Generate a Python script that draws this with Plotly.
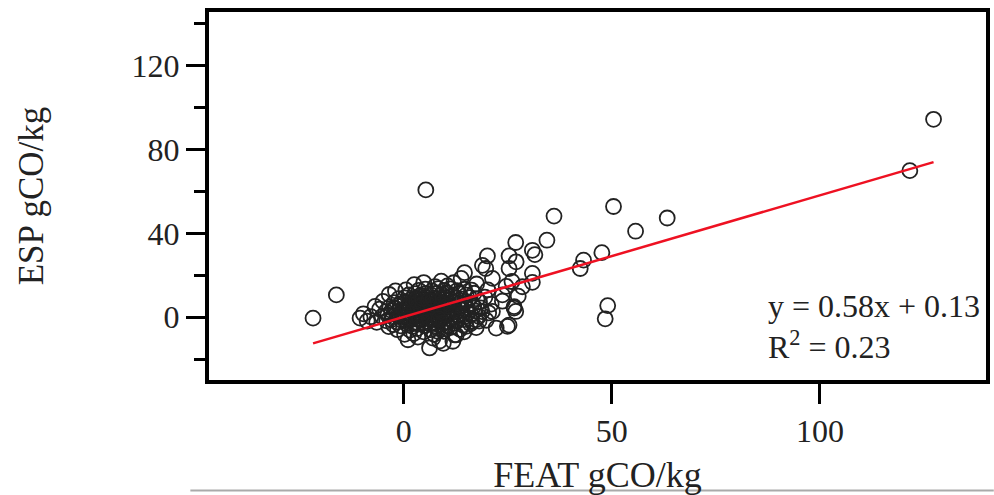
import plotly.graph_objects as go

# ---- data ----
core_x = [1.5,3.2,4.8,6.5,8.1,9.6,11.2,2.4,7.3,13.5,
          -2.5,-0.8,0.6,2.1,3.5,5.0,6.3,7.8,9.2,10.7,12.1,14.2,16.0,
          -4.1,-3.0,-1.7,-0.5,0.8,1.9,3.0,4.2,5.3,6.6,7.7,8.9,10.1,11.4,12.8,14.5,16.3,
          -5.2,-3.8,-2.6,-1.3,-0.2,1.0,2.3,3.4,4.6,5.8,6.9,8.0,9.3,10.5,11.7,13.0,14.6,16.2,18.0,
          -4.3,-2.9,-1.6,-0.4,0.9,2.0,3.2,4.4,5.5,6.7,7.9,9.0,10.2,11.5,12.7,14.0,15.4,17.1,18.8,
          -3.4,-2.0,-0.7,0.5,1.7,2.8,4.0,5.1,6.3,7.4,8.6,9.8,11.0,12.3,13.6,15.0,16.8,18.5,
          -2.3,-0.9,0.3,1.5,2.6,3.8,4.9,6.0,7.2,8.4,9.5,10.7,11.9,13.2,14.6,16.4,18.2,
          -1.2,0.2,1.6,2.9,4.1,5.3,6.5,7.6,8.8,10.0,11.3,12.6,14.1,15.8,17.6,
          1.2,2.7,4.0,5.4,6.6,7.9,9.1,10.4,11.8,13.3,15.0,16.9,
          3.6,5.2,6.8,8.3,9.7,11.2,12.8,14.6,16.3,7.5,10.5,
          0.4,1.5,2.7,3.9,5.1,6.2,7.4,8.5,9.7,0.9,2.2,3.3,4.6,5.7,6.9,8.1,9.2,10.4,
          1.3,2.6,3.8,5.0,6.1,7.3,8.4,9.6,3.1,4.5,5.9,7.0,8.2,9.4]
core_y = [-6.2,-5.5,-7.0,-6.0,-5.3,-6.8,-5.0,-7.8,-8.2,-5.8,
          -3.6,-4.2,-3.1,-4.4,-3.3,-4.0,-3.2,-4.3,-3.5,-4.1,-3.0,-3.8,-3.2,
          -1.8,-1.2,-2.3,-1.5,-2.1,-1.0,-2.4,-1.3,-2.0,-1.1,-2.5,-1.4,-2.2,-1.0,-1.9,-1.2,-2.0,
          0.3,0.9,0.1,1.0,0.2,0.8,-0.1,1.1,0.4,1.2,0.0,0.9,0.3,1.0,0.1,0.8,0.3,1.1,0.4,
          2.6,3.1,2.2,3.2,2.4,3.3,2.1,3.0,2.3,3.4,2.5,3.2,2.0,3.1,2.4,3.3,2.2,3.0,2.6,
          4.8,4.2,5.1,4.3,5.3,4.1,5.0,4.4,5.4,4.2,5.2,4.5,5.3,4.1,5.0,4.6,5.2,4.4,
          6.9,6.2,7.1,6.3,7.2,6.1,7.0,6.4,7.3,6.2,7.1,6.5,7.4,6.3,7.0,6.5,7.2,
          8.8,9.2,8.3,9.1,8.4,9.3,8.2,9.0,8.5,9.4,8.3,9.1,8.6,9.3,8.7,
          10.6,11.2,10.4,11.3,10.5,11.4,10.7,11.5,10.6,11.2,10.5,11.4,
          12.8,13.4,12.5,13.6,12.7,13.5,12.6,13.3,12.9,14.6,14.9,
          0.5,1.8,0.6,1.9,0.7,2.0,1.0,2.2,1.3,4.6,5.8,4.7,6.0,4.9,6.1,5.0,6.3,5.2,
          -0.9,-2.9,-0.7,-2.8,-0.6,-3.0,-0.8,-2.7,7.8,8.9,7.7,8.8,7.9,8.9]

fringe_x = [-7.9,-6.5,-5.8,-5.0,-3.5,-2.0,0.5,2.5,4.8,9.0,12.0,13.8,17.5,20.2,19.5,21.0,20.4,19.8,
            17.4,14.5,12.2,3.4,0.2,-1.5,-3.6,22.2,25.3,23.7,26.5,27.5,28.5,21.3,26.0,24.6,18.9,27.0,
            14.1,18.1]
fringe_y = [0.2,-2.5,3.8,7.5,10.8,12.5,13.0,15.5,16.5,17.2,16.4,18.5,15.8,13.0,9.5,6.2,2.0,-1.5,
            -5.0,-7.0,-8.5,-9.5,-8.2,-6.0,-4.5,-5.2,-3.8,7.6,4.3,10.0,14.5,18.5,17.0,14.7,24.7,26.4,
            0.9,-1.9]

outlier_x = [-21.8,-16.2,-10.5,-9.7,-8.8,-6.9,1.0,6.2,7.0,8.2,11.8,9.5,8.6,12.6,5.3,14.6,19.7,20.1,
             25.3,25.3,26.9,30.9,31.5,30.9,30.9,34.4,36.1,42.4,43.2,47.6,48.4,49.0,50.4,55.7,
             63.3,121.6,127.3,23.7,21.3,26.5,26.9,24.9,17.3,15.0]
outlier_y = [-0.5,10.6,-0.5,1.6,-1.9,5.1,-10.8,-14.7,-10.0,-6.8,-11.5,-12.5,-11.4,-8.5,60.7,21.2,
             23.2,29.2,29.2,23.2,35.6,31.9,29.8,20.9,16.6,36.7,48.2,23.2,27.2,30.8,-0.8,5.5,52.8,
             41.0,47.3,69.9,94.4,10.6,2.7,5.0,2.7,-4.4,-1.3,-4.4]

slope = 0.58
intercept = 0.13
eq_text = "y = 0.58x + 0.13"
r2_text = "R<sup>2</sup> = 0.23"

x_ticks = [0, 50, 100]
y_ticks = [0, 40, 80, 120]
y_minor = [-20, 20, 60, 100, 140]
x_title = "FEAT gCO/kg"
y_title = "ESP gCO/kg"

# ---- figure ----
all_x = core_x + fringe_x + outlier_x
all_y = core_y + fringe_y + outlier_y

fig = go.Figure()
fig.add_trace(go.Scatter(
    x=all_x, y=all_y, mode="markers",
    marker=dict(symbol="circle-open", size=15, color="#222222", line=dict(width=1.8)),
    showlegend=False, hoverinfo="skip"))

xl = [min(all_x), max(all_x)]
fig.add_trace(go.Scatter(
    x=xl, y=[slope * v + intercept for v in xl], mode="lines",
    line=dict(color="#ee1122", width=2.5), showlegend=False, hoverinfo="skip"))

font_family = "Liberation Serif, Times New Roman, serif"
fig.update_layout(
    width=994, height=495,
    margin=dict(l=209, r=4, t=12, b=113),
    paper_bgcolor="white", plot_bgcolor="white",
    font=dict(family=font_family, color="#222222", size=32),
    xaxis=dict(range=[-46.8, 139.9], tickvals=x_ticks, ticks="outside", ticklen=20,
               tickwidth=3, tickcolor="black", showline=True, linewidth=4, linecolor="black",
               mirror=True, showgrid=False, zeroline=False,
               tickfont=dict(size=32),
               title=dict(text=x_title, font=dict(size=36), standoff=16)),
    yaxis=dict(range=[-30, 145.6], tickvals=y_ticks, ticks="outside", ticklen=19,
               tickwidth=3, tickcolor="black", showline=True, linewidth=4, linecolor="black",
               mirror=True, showgrid=False, zeroline=False,
               tickfont=dict(size=32),
               minor=dict(tickvals=y_minor, ticks="outside", ticklen=11, tickwidth=3,
                          tickcolor="black", showgrid=False),
               title=dict(text=y_title, font=dict(size=35), standoff=78)),
)

fig.add_annotation(x=87, y=5.2, xref="x", yref="y", text=eq_text, showarrow=False,
                   xanchor="left", yanchor="middle", font=dict(size=32))
fig.add_annotation(x=87, y=-13.3, xref="x", yref="y", text=r2_text, showarrow=False,
                   xanchor="left", yanchor="middle", font=dict(size=32))

fig.add_shape(type="line", xref="paper", yref="paper", x0=-0.024, x1=1.01, y0=-0.3, y1=-0.3,
              line=dict(color="#aaaaaa", width=2))

fig.write_html("out.html")
